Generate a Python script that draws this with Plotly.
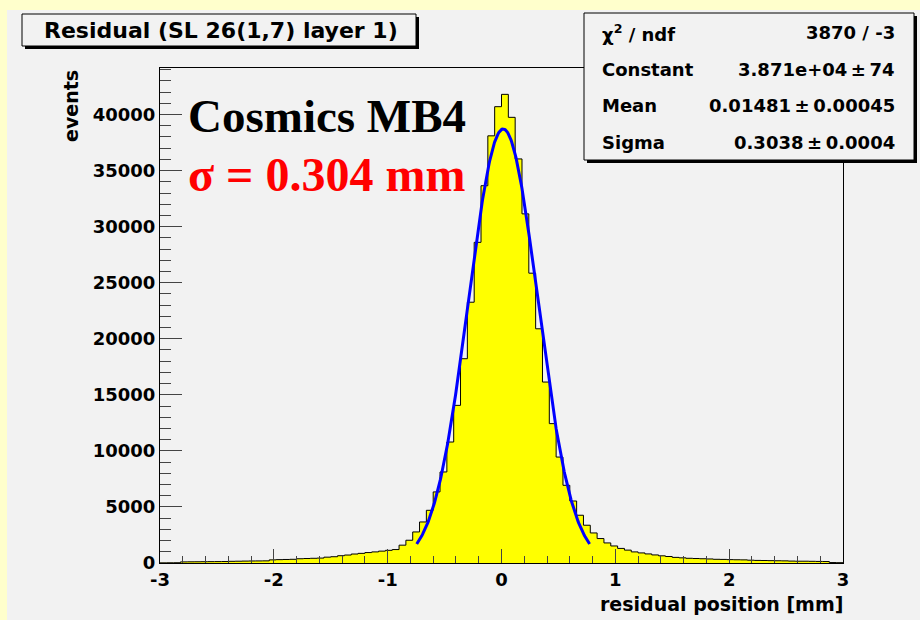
import numpy as np
import plotly.graph_objects as go

# Residual histogram: 100 bins of 0.06 mm from -3 to 3 mm
x_min, x_max, n_bins = -3.0, 3.0, 100
counts = [
    15, 20, 25, 100, 105, 110, 115, 120, 125, 130,
    150, 160, 170, 180, 185, 190, 280, 300, 315, 330,
    380, 400, 420, 440, 520, 560, 650, 710, 800, 860,
    930, 990, 1060, 1130, 1200, 1590, 2030, 2770, 3660, 4700,
    6340, 8120, 10790, 14060, 18220, 23260, 28600, 33650, 38100, 40700,
    41800, 39750, 36040, 31140, 25850, 20890, 16140, 12430, 9450, 6930,
    5530, 4260, 3370, 2680, 2180, 1790, 1520, 1300, 1150, 990,
    900, 810, 720, 640, 580, 500, 460, 420, 400, 380,
    360, 330, 320, 300, 290, 280, 250, 230, 220, 210,
    200, 190, 170, 160, 160, 150, 140, 130, 40, 30,
]

# Gaussian fit result
fit_constant = 3.871e4
fit_mean = 0.01481
fit_sigma = 0.3038
fit_window = 2.5  # fit range in sigmas around the mean

stats_rows = [
    ("χ<sup>2</sup> / ndf", "3870 / -3"),
    ("Constant", "3.871e+04\u2009±\u200974"),
    ("Mean", "0.01481\u2009±\u20090.00045"),
    ("Sigma", "0.3038\u2009±\u20090.0004"),
]

x_tick_vals = [-3, -2, -1, 0, 1, 2, 3]
x_tick_text = ["-3", "-2", "-1", "0", "1", "2", "3"]
y_tick_vals = [0, 5000, 10000, 15000, 20000, 25000, 30000, 35000, 40000]

title_text = "Residual (SL 26(1,7) layer 1)"
x_title = "residual position [mm]"
y_title = "events"
label_main = "Cosmics MB4"
label_sigma = "σ = 0.304 mm"

y_top = 44150

# --- canvas geometry (pixels) ---
W, H = 920, 620
PL, PR, PT, PB = 160, 843, 68, 563


def px(xp):
    return (xp - PL) / (PR - PL)


def py(yp):
    return (PB - yp) / (PB - PT)


edges = np.linspace(x_min, x_max, n_bins + 1)
step_y = list(counts) + [counts[-1]]

fig = go.Figure()
fig.add_trace(go.Scatter(
    x=edges, y=step_y, mode="lines", line_shape="hv",
    line=dict(color="black", width=1),
    fill="tozeroy", fillcolor="#ffff00",
    hoverinfo="skip", showlegend=False,
))

xf = np.linspace(fit_mean - fit_window * fit_sigma, fit_mean + fit_window * fit_sigma, 300)
yf = fit_constant * np.exp(-0.5 * ((xf - fit_mean) / fit_sigma) ** 2)
fig.add_trace(go.Scatter(
    x=xf, y=yf, mode="lines", line=dict(color="#0000ff", width=3),
    hoverinfo="skip", showlegend=False,
))

helv = "DejaVu Sans"
pad_gray = "#f2f2f2"
canvas_yellow = "#ffffcc"

shapes = []
# pad inside the yellow canvas
shapes.append(dict(type="rect", xref="paper", yref="paper", layer="below",
                   x0=px(7), x1=px(W + 5), y0=py(10), y1=py(H + 5),
                   fillcolor=pad_gray, line=dict(width=0)))


def shadow_box(x0, y0, x1, y1, sh=3):
    shapes.append(dict(type="rect", xref="paper", yref="paper",
                       x0=px(x0 + sh), x1=px(x1 + sh), y0=py(y0 + sh), y1=py(y1 + sh),
                       fillcolor="black", line=dict(width=0)))
    shapes.append(dict(type="rect", xref="paper", yref="paper",
                       x0=px(x0), x1=px(x1), y0=py(y0), y1=py(y1),
                       fillcolor=pad_gray, line=dict(color="black", width=1)))


shadow_box(22, 14, 416, 46)
shadow_box(584, 13, 914, 160)

ann = []
ann.append(dict(text=title_text, xref="paper", yref="paper", x=px(221), y=py(31),
                xanchor="center", yanchor="middle", showarrow=False,
                font=dict(family=helv, size=22, color="black", weight="bold")))

row_y = [33, 69, 105, 142]
for (lab, val), yy in zip(stats_rows, row_y):
    ann.append(dict(text=lab, xref="paper", yref="paper", x=px(600), y=py(yy),
                    xanchor="left", yanchor="middle", showarrow=False,
                    font=dict(family=helv, size=18, color="black", weight="bold")))
    ann.append(dict(text=val, xref="paper", yref="paper", x=px(897), y=py(yy),
                    xanchor="right", yanchor="middle", showarrow=False,
                    font=dict(family=helv, size=18, color="black", weight="bold")))

ann.append(dict(text=label_main, xref="paper", yref="paper", x=px(186), y=py(116),
                xanchor="left", yanchor="middle", showarrow=False,
                font=dict(family="Liberation Serif", size=47, color="black", weight="bold")))
ann.append(dict(text=label_sigma, xref="paper", yref="paper", x=px(186), y=py(174),
                xanchor="left", yanchor="middle", showarrow=False,
                font=dict(family="Liberation Serif", size=48, color="#ff0000", weight="bold")))

ann.append(dict(text=x_title, xref="paper", yref="paper", x=px(845), y=py(604),
                xanchor="right", yanchor="middle", showarrow=False,
                font=dict(family=helv, size=19, color="black", weight="bold")))
ann.append(dict(text=y_title, xref="paper", yref="paper", x=px(71), y=py(68),
                xanchor="center", yanchor="top", textangle=-90, showarrow=False,
                font=dict(family=helv, size=19, color="black", weight="bold")))

fig.update_layout(
    width=W, height=H,
    margin=dict(l=PL, r=W - PR, t=PT, b=H - PB, pad=0),
    paper_bgcolor=canvas_yellow,
    plot_bgcolor=pad_gray,
    shapes=shapes,
    annotations=ann,
    showlegend=False,
)

fig.update_xaxes(
    range=[x_min, x_max], tickvals=x_tick_vals, ticktext=x_tick_text,
    ticks="inside", ticklen=14, tickwidth=1, tickcolor="#444",
    minor=dict(dtick=0.2, tick0=0, ticks="inside", ticklen=7, tickcolor="#444", showgrid=False),
    showline=True, linecolor="black", linewidth=1, mirror=True,
    showgrid=False, zeroline=False,
    tickfont=dict(family=helv, size=18, color="black", weight="bold"),
)
fig.update_yaxes(
    range=[0, y_top], tickvals=y_tick_vals, tickformat="d",
    ticks="inside", ticklen=22, tickwidth=1, tickcolor="#444",
    minor=dict(dtick=1000, tick0=0, ticks="inside", ticklen=11, tickcolor="#444", showgrid=False),
    showline=True, linecolor="black", linewidth=1, mirror=True,
    showgrid=False, zeroline=False,
    tickfont=dict(family=helv, size=18, color="black", weight="bold"),
)

fig.write_html("out.html")
